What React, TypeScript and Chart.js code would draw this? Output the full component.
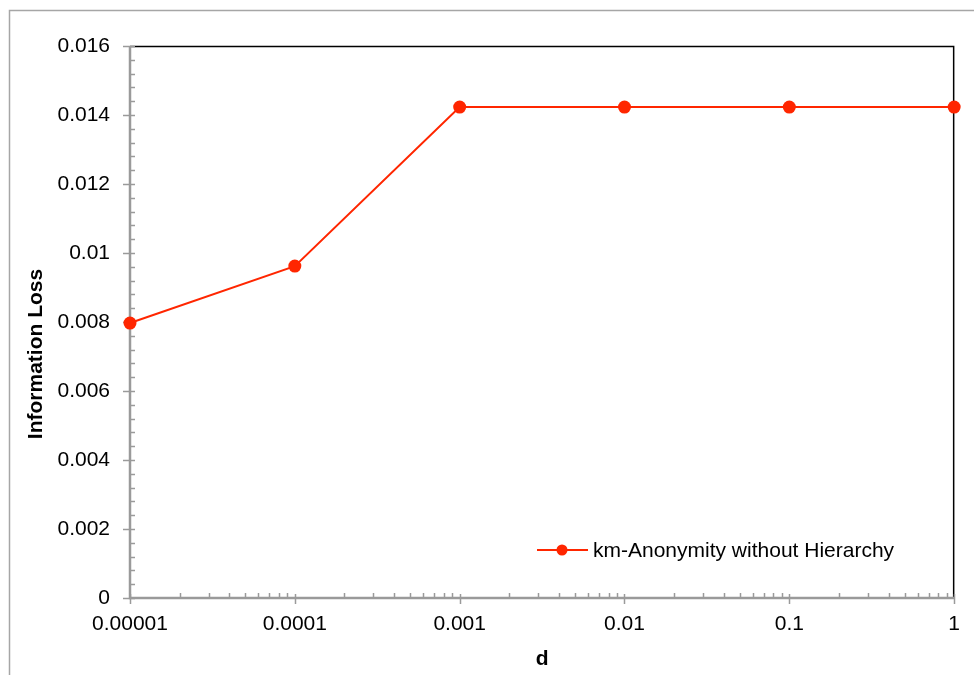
import React, { useEffect, useRef } from "react";
import { Chart, registerables } from "chart.js";

Chart.register(...registerables);

const xValues = [0.00001, 0.0001, 0.001, 0.01, 0.1, 1];
const seriesValues = [0.00797, 0.00962, 0.01423, 0.01423, 0.01423, 0.01423];
const seriesLabel = "km-Anonymity without Hierarchy";
const xTickValues = [0.00001, 0.0001, 0.001, 0.01, 0.1, 1];
const xTickLabels = ["0.00001", "0.0001", "0.001", "0.01", "0.1", "1"];
const yTickValues = [0, 0.002, 0.004, 0.006, 0.008, 0.01, 0.012, 0.014, 0.016];
const yTickLabels = ["0", "0.002", "0.004", "0.006", "0.008", "0.01", "0.012", "0.014", "0.016"];
const xTitle = "d";
const yTitle = "Information Loss";

const RED = "rgb(255,38,0)";
const FONT = "'Liberation Sans', Arial, sans-serif";

const framePlugin = {
  id: "frame",
  beforeDatasetsDraw(chart: any) {
    const { ctx, chartArea } = chart;
    const { left, right, top, bottom } = chartArea;
    const xs = chart.scales.x;
    const ys = chart.scales.y;
    ctx.save();
    // outer frame
    ctx.strokeStyle = "#a6a6a6";
    ctx.lineWidth = 1.5;
    ctx.beginPath();
    ctx.moveTo(9.5, 680);
    ctx.lineTo(9.5, 10.5);
    ctx.lineTo(980, 10.5);
    ctx.stroke();
    // black top/right border
    ctx.strokeStyle = "#000";
    ctx.lineWidth = 1.5;
    ctx.beginPath();
    ctx.moveTo(left, top + 0.5);
    ctx.lineTo(right - 0.5, top + 0.5);
    ctx.lineTo(right - 0.5, bottom);
    ctx.stroke();
    // gray axes
    ctx.strokeStyle = "#9a9a9a";
    ctx.lineWidth = 1.5;
    // y minor ticks
    ctx.beginPath();
    for (let i = 0; i <= 40; i++) {
      const v = i * 0.0004;
      const py = Math.round(ys.getPixelForValue(v)) + 0.5;
      ctx.moveTo(left, py);
      ctx.lineTo(left + 5, py);
    }
    // y major ticks
    yTickValues.forEach((v) => {
      const py = Math.round(ys.getPixelForValue(v)) + 0.5;
      ctx.moveTo(left - 7, py);
      ctx.lineTo(left + 4, py);
    });
    // x minor ticks
    for (let d = 0; d < xTickValues.length - 1; d++) {
      for (let m = 2; m <= 9; m++) {
        const px = Math.round(xs.getPixelForValue(m * xTickValues[d])) + 0.5;
        ctx.moveTo(px, bottom - 5);
        ctx.lineTo(px, bottom);
      }
    }
    // x major ticks
    xTickValues.forEach((v) => {
      const px = Math.round(xs.getPixelForValue(v)) + 0.5;
      ctx.moveTo(px, bottom - 4);
      ctx.lineTo(px, bottom + 6);
    });
    ctx.stroke();
    ctx.lineWidth = 2.5;
    ctx.beginPath();
    ctx.moveTo(left, top);
    ctx.lineTo(left, bottom);
    ctx.lineTo(right, bottom);
    ctx.stroke();
    ctx.restore();
  },
  afterDraw(chart: any) {
    const { ctx, chartArea } = chart;
    ctx.save();
    ctx.fillStyle = "#000";
    ctx.font = `bold 21px ${FONT}`;
    ctx.textAlign = "center";
    ctx.textBaseline = "middle";
    // x title
    ctx.fillText(xTitle, (chartArea.left + chartArea.right) / 2, 659);
    // y title
    ctx.save();
    ctx.translate(36, 354);
    ctx.rotate(-Math.PI / 2);
    ctx.fillText(yTitle, 0, 0);
    ctx.restore();
    // legend
    const ly = 550;
    ctx.strokeStyle = RED;
    ctx.lineWidth = 2;
    ctx.beginPath();
    ctx.moveTo(537, ly);
    ctx.lineTo(588, ly);
    ctx.stroke();
    ctx.fillStyle = RED;
    ctx.beginPath();
    ctx.arc(562, ly, 5.5, 0, Math.PI * 2);
    ctx.fill();
    ctx.fillStyle = "#000";
    ctx.font = `21px ${FONT}`;
    ctx.textAlign = "left";
    ctx.fillText(chart.data.datasets[0].label, 593, ly + 1);
    ctx.restore();
  },
};

export default function App() {
  const ref = useRef<HTMLCanvasElement>(null);
  useEffect(() => {
    if (!ref.current) return;
    Chart.defaults.font.family = FONT;
    Chart.defaults.color = "#000";
    const chart = new Chart(ref.current, {
      type: "line",
      data: {
        datasets: [
          {
            label: seriesLabel,
            data: xValues.map((x, i) => ({ x, y: seriesValues[i] })),
            borderColor: RED,
            backgroundColor: RED,
            pointBackgroundColor: RED,
            pointBorderWidth: 0,
            pointRadius: 6.5,
            borderWidth: 2,
            tension: 0,
            clip: false as any,
          },
        ],
      },
      options: {
        animation: false,
        responsive: false,
        devicePixelRatio: 1,
        layout: { padding: { left: 0, top: 46, right: 18, bottom: 0 } },
        plugins: { legend: { display: false }, tooltip: { enabled: false } },
        scales: {
          x: {
            type: "logarithmic",
            min: 0.00001,
            max: 1,
            grid: { display: false, drawTicks: false },
            border: { display: false },
            afterBuildTicks: (scale: any) => {
              scale.ticks = xTickValues.map((v) => ({ value: v }));
            },
            afterFit: (scale: any) => {
              scale.height = 77;
            },
            ticks: {
              font: { size: 21 },
              color: "#000",
              padding: 14,
              maxRotation: 0,
              autoSkip: false,
              callback: (v: any) => {
                const i = xTickValues.findIndex((t) => Math.abs(t - v) / t < 1e-6);
                return i >= 0 ? xTickLabels[i] : "";
              },
            },
          },
          y: {
            type: "linear",
            min: 0,
            max: 0.016,
            grid: { display: false, drawTicks: false },
            border: { display: false },
            afterBuildTicks: (scale: any) => {
              scale.ticks = yTickValues.map((v) => ({ value: v }));
            },
            afterFit: (scale: any) => {
              scale.width = 130;
            },
            ticks: {
              font: { size: 21 },
              color: "#000",
              padding: 20,
              autoSkip: false,
              callback: (v: any) => {
                const i = yTickValues.findIndex((t) => Math.abs(t - v) < 1e-9);
                return i >= 0 ? yTickLabels[i] : "";
              },
            },
          },
        },
      },
      plugins: [framePlugin],
    });
    return () => chart.destroy();
  }, []);
  return (
    <div style={{ position: "absolute", left: 0, top: 0, width: 974, height: 675, background: "#fff" }}>
      <canvas ref={ref} width={974} height={675} style={{ display: "block" }} />
    </div>
  );
}
